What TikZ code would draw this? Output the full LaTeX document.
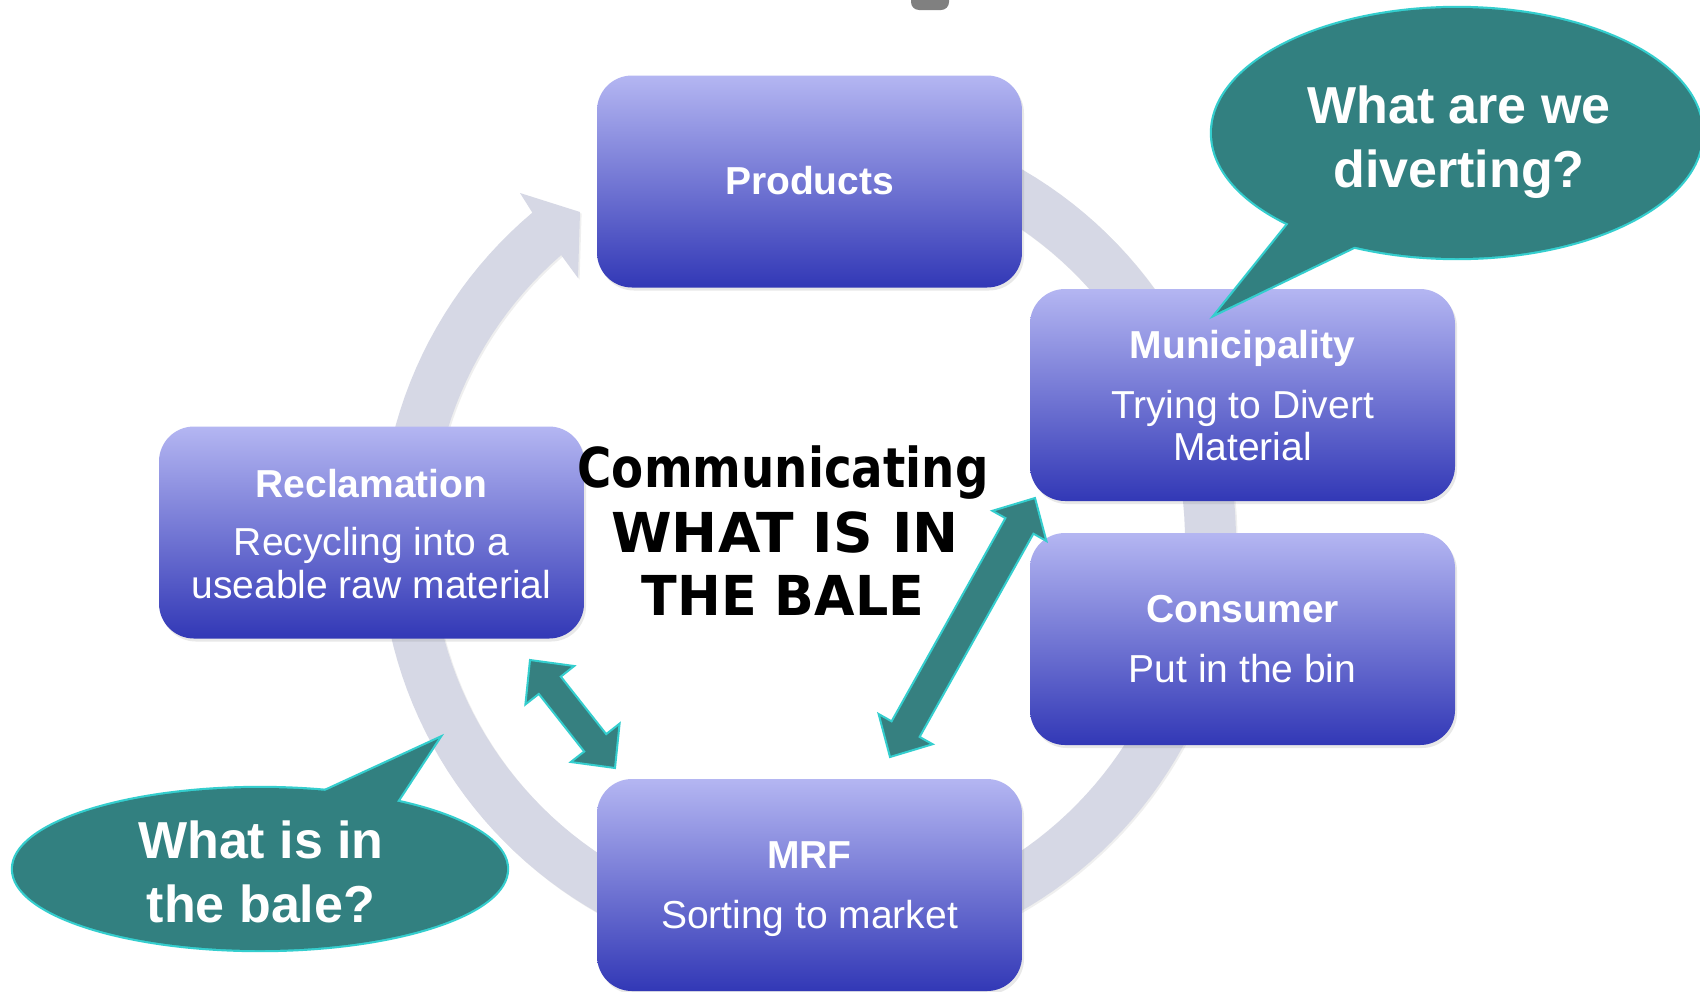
\documentclass[tikz,border=0pt]{standalone}
\usepackage{fontspec}
\usepackage{graphicx}
\setmainfont{Liberation Sans}
\newfontfamily\ctrfont{DejaVu Sans}
\usetikzlibrary{shadows}
\definecolor{ringgray}{RGB}{214,216,229}
\definecolor{boxtop}{RGB}{180,182,242}
\definecolor{boxbot}{RGB}{50,56,182}
\definecolor{tealfill}{RGB}{50,128,128}
\definecolor{tealarrow}{RGB}{54,128,128}
\definecolor{cyanline}{RGB}{52,206,206}
\definecolor{topgray}{RGB}{128,128,128}
\tikzset{
  stagebox/.style={rectangle, rounded corners=17.5pt, minimum width=212.5pt,
    minimum height=106pt, inner sep=0pt, draw=none,
    top color=boxtop, bottom color=boxbot,
    drop shadow={opacity=0.18, shadow xshift=1pt, shadow yshift=-1.5pt}},
  ttl/.style={text=white, inner sep=0pt, anchor=base,
    font=\bfseries\fontsize{19.5}{23}\selectfont},
  sub/.style={text=white, inner sep=0pt, anchor=base,
    font=\fontsize{19.5}{23}\selectfont},
  ctrtext/.style={text=black, inner sep=0pt, anchor=base,
    font=\ctrfont\bfseries\fontsize{27.5}{33}\selectfont},
  bubtext/.style={text=white, inner sep=0pt, anchor=base,
    font=\bfseries\fontsize{26}{31}\selectfont},
  bubedge/.style={draw=cyanline, line width=2.2pt},
  bubfill/.style={fill=tealfill},
  tealarrowstyle/.style={fill=tealarrow, draw=cyanline, line width=1pt, line join=miter}
}
\begin{document}
\begin{tikzpicture}[x=0.5pt, y=-0.5pt]
\useasboundingbox (0,0) rectangle (1700,991);
\fill[white] (0,0) rectangle (1700,991);

% grey fragment at top
\fill[topgray, rounded corners=4pt] (911,-20) rectangle (949,10);

% circular grey arrow
\fill[ringgray, drop shadow={opacity=0.12, shadow xshift=0.8pt, shadow yshift=-0.8pt}]
  plot[domain=270:589.9, samples=160] ({808+428*cos(\x)},{540+428*sin(\x)})
  -- (520,193) -- (580,212) -- (578,278)
  -- plot[domain=589.1:270, samples=160] ({808+377*cos(\x)},{540+377*sin(\x)})
  -- cycle;

% boxes
\node[stagebox] (prod) at (809.5,181.5) {};
\node[stagebox] (muni) at (1242.5,395) {};
\node[stagebox] (cons) at (1242.5,639) {};
\node[stagebox] (mrf)  at (809.5,885) {};
\node[stagebox] (recl) at (371.5,532.5) {};

% box texts
\node[ttl] (prodT) at (809.5,194) {Products};
\node[ttl] (muniT) at (1242.5,358) {Municipality};
\node[sub] (muniS1) at (1242.5,418) {Trying to Divert};
\node[sub] (muniS2) at (1242.5,460) {Material};
\node[ttl] (consT) at (1242.5,622) {Consumer};
\node[sub] (consS) at (1242.5,682) {Put in the bin};
\node[ttl] (mrfT) at (809.5,868) {MRF};
\node[sub] (mrfS) at (809.5,928) {Sorting to market};
\node[ttl] (reclT) at (371.5,497) {Reclamation};
\node[sub] (reclS1) at (371.5,555) {Recycling into a};
\node[sub] (reclS2) at (371.5,598) {useable raw material};

% centre text
\node[ctrtext] (c1) at (783,487) {\scalebox{0.85}[1]{Communicating}};
\node[ctrtext] (c2) at (785,552) {WHAT IS IN};
\node[ctrtext] (c3) at (783,615) {\scalebox{0.95}[1]{THE BALE}};

% teal double arrows
\coordinate (la) at (530,660);
\coordinate (lb) at (615,768);
\filldraw[tealarrowstyle] (la) -- (574.2,666.0) -- (560.8,676.6) -- (606.2,734.1)
  -- (619.6,723.6) -- (lb) -- (570.8,762.0) -- (584.2,751.5) -- (538.8,693.9)
  -- (525.4,704.4) -- cycle;
\coordinate (ra) at (1035,498);
\coordinate (rb) at (890,757);
\filldraw[tealarrowstyle] (ra) -- (1046.4,541.0) -- (1033.4,533.7) -- (919.6,736.9)
  -- (932.6,744.2) -- (rb) -- (878.6,714.0) -- (891.6,721.3) -- (1005.4,518.1)
  -- (992.4,510.8) -- cycle;

% speech bubble top right
\path[bubedge] (1457,133) ellipse [x radius=245, y radius=125];
\path[bubedge] (1294,217) -- (1217,313) -- (1368,240) -- cycle;
\path[bubfill] (1457,133) ellipse [x radius=245, y radius=125];
\path[bubfill] (1294,217) -- (1217,313) -- (1368,240) -- cycle;
\node[bubtext] (q1a) at (1459,123) {What are we};
\node[bubtext] (q1b) at (1459,187) {diverting?};

% speech bubble bottom left
\path[bubedge] (260,869) ellipse [x radius=247, y radius=81];
\path[bubedge] (312,797) -- (438,739) -- (394,806) -- cycle;
\path[bubfill] (260,869) ellipse [x radius=247, y radius=81];
\path[bubfill] (312,797) -- (438,739) -- (394,806) -- cycle;
\node[bubtext] (q2a) at (261,858) {What is in};
\node[bubtext] (q2b) at (261,922) {the bale?};
\end{tikzpicture}
\end{document}
